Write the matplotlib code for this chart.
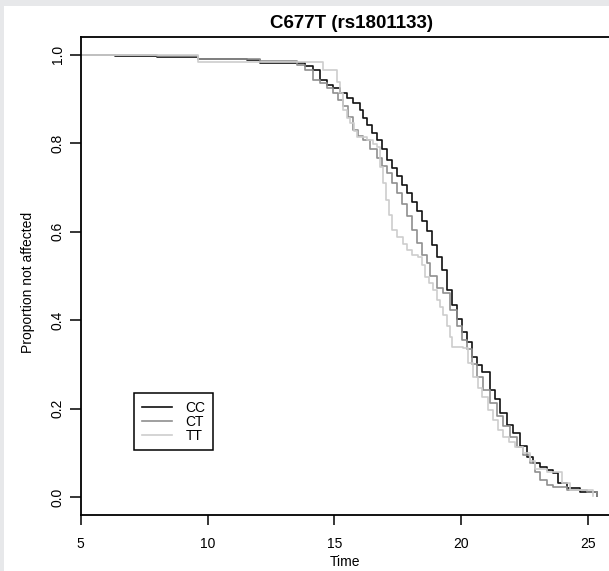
import matplotlib
matplotlib.use("Agg")
import matplotlib.pyplot as plt
from matplotlib.patches import Rectangle

plt.rcParams['font.family'] = ['Liberation Sans', 'DejaVu Sans']

# Kaplan-Meier style curves (time, proportion not affected)
cc_time = [5.0, 6.35, 8.0, 9.63, 11.56, 12.07, 13.53, 13.84, 14.16, 14.43, 14.71, 14.95,
           15.22, 15.50, 15.74, 16.01, 16.13, 16.29, 16.49, 16.68, 16.88, 17.08, 17.28,
           17.47, 17.67, 17.87, 18.06, 18.26, 18.46, 18.66, 18.85, 19.05, 19.25, 19.45,
           19.64, 19.84, 20.04, 20.23, 20.43, 20.63, 20.83, 21.14, 21.34, 21.54, 21.81,
           22.05, 22.33, 22.60, 22.84, 23.11, 23.39, 23.63, 23.82, 24.18, 24.69, 25.08, 25.36]
cc_surv = [1.0, 0.997, 0.995, 0.990, 0.987, 0.982, 0.981, 0.975, 0.966, 0.943, 0.932, 0.925,
           0.914, 0.902, 0.892, 0.876, 0.858, 0.842, 0.824, 0.808, 0.786, 0.763, 0.745,
           0.725, 0.706, 0.688, 0.668, 0.646, 0.625, 0.601, 0.571, 0.544, 0.514, 0.469,
           0.435, 0.402, 0.374, 0.352, 0.318, 0.300, 0.282, 0.243, 0.221, 0.191, 0.164,
           0.146, 0.117, 0.092, 0.078, 0.069, 0.062, 0.056, 0.033, 0.022, 0.013, 0.011, 0.002]

ct_time = [5.0, 8.0, 9.63, 12.07, 13.53, 13.84, 14.16, 14.43, 14.71, 14.95, 15.15, 15.34,
           15.54, 15.74, 15.93, 16.13, 16.41, 16.68, 16.88, 17.08, 17.28, 17.47, 17.67,
           17.87, 18.06, 18.26, 18.46, 18.66, 18.77, 19.05, 19.29, 19.56, 19.84, 20.04,
           20.23, 20.43, 20.63, 20.86, 21.14, 21.41, 21.66, 21.93, 22.21, 22.44, 22.72,
           22.92, 23.11, 23.39, 23.63, 24.18, 24.96, 25.36]
ct_surv = [1.0, 0.996, 0.990, 0.985, 0.977, 0.966, 0.943, 0.936, 0.925, 0.913, 0.898, 0.883,
           0.860, 0.831, 0.817, 0.808, 0.788, 0.767, 0.749, 0.733, 0.711, 0.688, 0.662,
           0.635, 0.605, 0.575, 0.548, 0.529, 0.499, 0.474, 0.462, 0.424, 0.386, 0.356,
           0.334, 0.302, 0.272, 0.243, 0.214, 0.184, 0.160, 0.137, 0.114, 0.096, 0.078,
           0.058, 0.040, 0.028, 0.024, 0.017, 0.013, 0.002]

tt_time = [5.0, 9.63, 14.55, 15.10, 15.22, 15.34, 15.50, 15.62, 15.78, 15.90, 16.29, 16.53,
           16.68, 16.80, 16.92, 17.04, 17.16, 17.28, 17.47, 17.71, 17.87, 18.06, 18.30,
           18.46, 18.58, 18.74, 18.90, 19.05, 19.17, 19.29, 19.45, 19.56, 19.64, 20.07,
           20.27, 20.47, 20.67, 20.83, 21.06, 21.26, 21.46, 21.66, 21.89, 22.13, 22.45,
           22.72, 22.92, 23.39, 23.98, 24.30, 24.96, 25.20]
tt_surv = [1.0, 0.983, 0.966, 0.939, 0.914, 0.876, 0.858, 0.846, 0.828, 0.815, 0.808, 0.799,
           0.792, 0.747, 0.711, 0.672, 0.638, 0.604, 0.588, 0.573, 0.559, 0.548, 0.543,
           0.525, 0.498, 0.484, 0.469, 0.446, 0.431, 0.413, 0.386, 0.362, 0.340, 0.338,
           0.304, 0.272, 0.247, 0.227, 0.197, 0.175, 0.153, 0.137, 0.125, 0.114, 0.101,
           0.081, 0.063, 0.058, 0.033, 0.017, 0.017, 0.002]

groups = ['CC', 'CT', 'TT']
colors = ['#111111', '#8f8f8f', '#cdcdcd']

W, H = 609, 571
fig = plt.figure(figsize=(W / 100, H / 100), dpi=100, facecolor='#e7e8ea')
# white panel inside the grey frame
fig.patches.append(Rectangle((4 / W, 0), 1 - 4 / W, (H - 6) / H, transform=fig.transFigure,
                             facecolor='white', edgecolor='none', zorder=-10))

ax = fig.add_axes([80.7 / W, 56 / H, (W - 80.7) / W, 478 / H])
ax.set_zorder(5)
ax.set_facecolor('white')

for t, s, c, g in zip([cc_time, ct_time, tt_time], [cc_surv, ct_surv, tt_surv], colors, groups):
    ax.step(t, s, where='post', color=c, linewidth=1.2, label=g)

ax.set_xlim(5, 25.83)
ax.set_ylim(-0.04, 1.04)
ax.set_xticks([5, 10, 15, 20, 25])
ax.set_yticks([0.0, 0.2, 0.4, 0.6, 0.8, 1.0])
ax.set_yticklabels(['0.0', '0.2', '0.4', '0.6', '0.8', '1.0'])
ax.tick_params(axis='x', direction='out', length=7, width=1.1, pad=8.5, labelsize=10)
ax.tick_params(axis='y', direction='out', length=8, width=1.1, pad=3.5, labelsize=10,
               labelrotation=90)
for lab in ax.get_yticklabels():
    lab.set_va('center')

for side in ['left', 'top', 'bottom']:
    ax.spines[side].set_linewidth(1.3)
ax.spines['right'].set_visible(False)

fig.text(352 / W, 1 - 23 / H, 'C677T (rs1801133)', ha='center', va='center',
         fontsize=13.5, fontweight='bold', zorder=6)
fig.text(345 / W, 1 - 562 / H, 'Time', ha='center', va='center', fontsize=10, zorder=6)
fig.text(28 / W, 1 - 282 / H, 'Proportion not affected', ha='center', va='center',
         rotation=90, fontsize=10, zorder=6)

leg = ax.legend(loc='upper left', bbox_to_anchor=((134 - 80.7) / (W - 80.7), (178 - 56) / 478),
                borderaxespad=0, fancybox=False, edgecolor='black', framealpha=1,
                fontsize=10, handlelength=2.2, handletextpad=0.95, borderpad=0.55,
                labelspacing=0.0)
leg.get_frame().set_linewidth(1.1)

fig.savefig('out.png', dpi=100, facecolor=fig.get_facecolor())
